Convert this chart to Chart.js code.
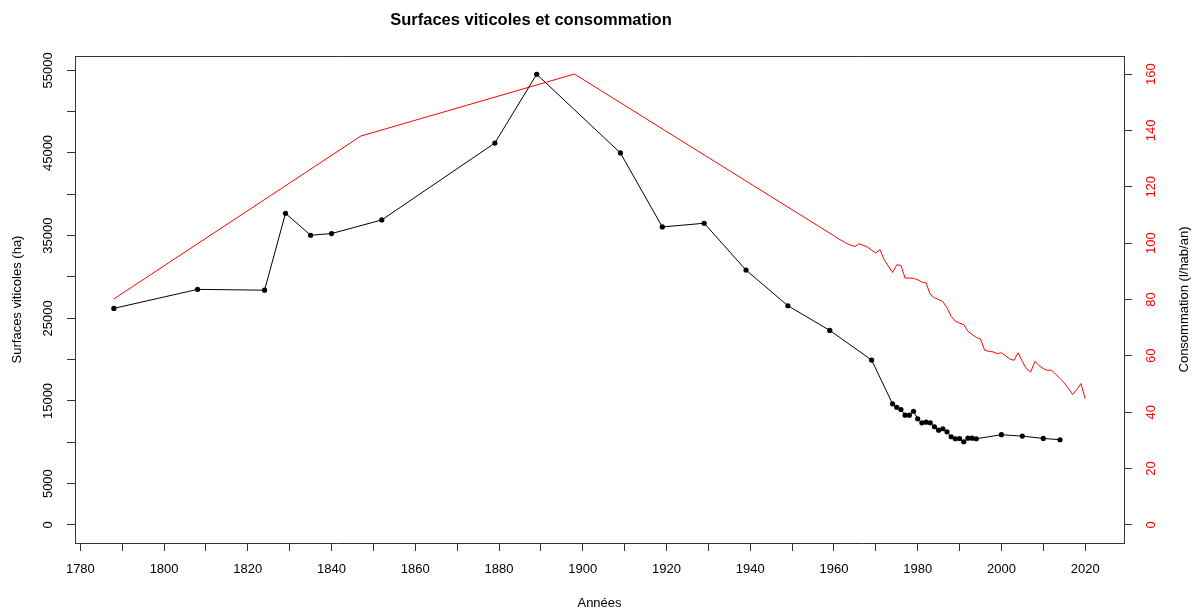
<!DOCTYPE html>
<html>
<head>
<meta charset="utf-8">
<script src="https://cdn.jsdelivr.net/npm/chart.js@4.4.1/dist/chart.umd.min.js"></script>
<style>
html,body{margin:0;padding:0;background:#fff;}
#wrap{width:1193px;height:610px;position:relative;}
canvas{display:block;}
</style>
</head>
<body>
<div id="wrap"><canvas id="c" width="1193" height="610"></canvas></div>
<script>
// ---- Data ----
const surfYears = [1788,1808,1824,1829,1835,1840,1852,1879,1889,1909,1919,1929,1939,1949,1959,1969,
  1974,1975,1976,1977,1978,1979,1980,1981,1982,1983,1984,1985,1986,1987,1988,1989,1990,1991,1992,1993,1994,
  2000,2005,2010,2014];
const surfValues = [26200,28500,28400,37700,35050,35250,36900,46200,54520,45000,36050,36500,30830,26520,23540,19950,
  14650,14240,13970,13280,13280,13760,12840,12360,12430,12360,11880,11470,11640,11270,10670,10430,10460,10070,10500,10500,10430,
  10920,10750,10470,10310];

const consYears = [1788,1847,1898,1960,1961,1962,1963,1964,1965,1966,1967,1968,1969,1970,1971,1972,1973,1974,1975,1976,1977,1978,1979,
  1980,1981,1982,1983,1984,1985,1986,1987,1988,1989,1990,1991,1992,1993,1994,1995,1996,1997,1998,1999,
  2000,2001,2002,2003,2004,2005,2006,2007,2008,2009,2010,2011,2012,2013,2014,2015,2016,2017,2018,2019,2020];
const consValues = [80.2,138.0,160.0,102.6,101.6,100.8,99.9,99.3,98.8,99.8,99.2,98.6,97.5,96.5,97.7,94.1,91.8,89.6,92.3,92.1,87.6,87.6,87.5,
  87.0,86.2,85.9,81.8,80.6,80.0,79.3,77.0,74.0,72.3,71.6,71.1,68.7,67.6,66.5,66.0,62.0,61.6,61.4,60.8,
  61.1,60.0,58.9,58.4,61.1,58.0,55.4,54.3,58.1,56.5,55.5,54.9,54.9,53.4,52.0,50.4,48.5,46.3,48.0,50.2,44.8];

const xTicks = [1780,1790,1800,1810,1820,1830,1840,1850,1860,1870,1880,1890,1900,1910,1920,1930,1940,1950,1960,1970,1980,1990,2000,2010,2020];
const xTickLabels = ['1780','','1800','','1820','','1840','','1860','','1880','','1900','','1920','','1940','','1960','','1980','','2000','','2020'];
const leftTicks = [0,5000,10000,15000,20000,25000,30000,35000,40000,45000,50000,55000];
const leftTickLabels = ['0','5000','','15000','','25000','','35000','','45000','','55000'];
const rightTicks = [0,20,40,60,80,100,120,140,160];
const rightTickLabels = ['0','20','40','60','80','100','120','140','160'];

const titleText = 'Surfaces viticoles et consommation';
const xTitle = 'Années';
const yTitle = 'Surfaces viticoles (ha)';
const y2Title = 'Consommation (l/hab/an)';

// ---- Chart ----
const FONT = "'Liberation Sans', Arial, Helvetica, sans-serif";
Chart.defaults.font.family = FONT;

function rotText(ctx, t, x, y, color, font) {
  ctx.save();
  ctx.translate(x, y);
  ctx.rotate(-Math.PI / 2);
  ctx.fillStyle = color;
  ctx.font = font;
  ctx.textAlign = 'center';
  ctx.textBaseline = 'middle';
  ctx.fillText(t, 0, 0);
  ctx.restore();
}

const decor = {
  id: 'decor',
  afterDraw(chart) {
    const ctx = chart.ctx;
    const a = chart.chartArea;
    // box top line
    ctx.save();
    ctx.strokeStyle = '#333';
    ctx.lineWidth = 1;
    ctx.beginPath();
    ctx.moveTo(Math.round(a.left) + 0.5, Math.round(a.top) + 0.5);
    ctx.lineTo(Math.round(a.right) + 0.5, Math.round(a.top) + 0.5);
    ctx.stroke();
    ctx.restore();
    // left labels
    const ys = chart.scales.y, y2s = chart.scales.y2;
    leftTicks.forEach((v, i) => {
      if (leftTickLabels[i]) rotText(ctx, leftTickLabels[i], 48, ys.getPixelForValue(v), '#000', '13px ' + FONT);
    });
    rightTicks.forEach((v, i) => {
      rotText(ctx, rightTickLabels[i], 1151, y2s.getPixelForValue(v), '#ff0000', '13px ' + FONT);
    });
    rotText(ctx, yTitle, 17, (a.top + a.bottom) / 2, '#000', '13px ' + FONT);
    rotText(ctx, y2Title, 1184, (a.top + a.bottom) / 2, '#000', '13px ' + FONT);
    // x title
    ctx.save();
    ctx.fillStyle = '#000';
    ctx.font = '13px ' + FONT;
    ctx.textAlign = 'center';
    ctx.textBaseline = 'middle';
    ctx.fillText(xTitle, (a.left + a.right) / 2, 603);
    ctx.font = 'bold 16.5px ' + FONT;
    ctx.fillText(titleText, 531, 20);
    ctx.restore();
  }
};

new Chart(document.getElementById('c'), {
  type: 'line',
  data: {
    datasets: [
      {
        label: 'Surfaces',
        data: surfYears.map((x, i) => ({ x: x, y: surfValues[i] })),
        yAxisID: 'y',
        borderColor: '#000',
        borderWidth: 1,
        pointRadius: 2.6,
        pointBackgroundColor: '#000',
        pointBorderWidth: 0,
        tension: 0
      },
      {
        label: 'Consommation',
        data: consYears.map((x, i) => ({ x: x, y: consValues[i] })),
        yAxisID: 'y2',
        borderColor: '#ff0000',
        borderWidth: 1,
        pointRadius: 0,
        tension: 0
      }
    ]
  },
  options: {
    responsive: false,
    animation: false,
    layout: { padding: { top: 56, left: 0, right: 0, bottom: 0 } },
    plugins: { legend: { display: false }, tooltip: { enabled: false }, title: { display: false } },
    scales: {
      x: {
        type: 'linear',
        min: 1778.72, max: 2029.28,
        afterBuildTicks: s => { s.ticks = xTicks.map(v => ({ value: v })); },
        afterFit: s => { s.height = 67; },
        grid: { drawOnChartArea: false, drawTicks: true, tickLength: 8, color: '#333' },
        border: { display: true, color: '#333' },
        ticks: { callback: (v, i) => xTickLabels[i], color: '#000', font: { size: 13 }, padding: 11, maxRotation: 0, minRotation: 0, autoSkip: false }
      },
      y: {
        type: 'linear', position: 'left',
        min: -2180, max: 56730,
        afterBuildTicks: s => { s.ticks = leftTicks.map(v => ({ value: v })); },
        afterFit: s => { s.width = 75; },
        grid: { drawOnChartArea: false, drawTicks: true, tickLength: 8, color: '#333' },
        border: { display: true, color: '#333' },
        ticks: { display: false }
      },
      y2: {
        type: 'linear', position: 'right',
        min: -6.4, max: 166.4,
        afterBuildTicks: s => { s.ticks = rightTicks.map(v => ({ value: v })); },
        afterFit: s => { s.width = 69; },
        grid: { drawOnChartArea: false, drawTicks: true, tickLength: 8, color: '#333' },
        border: { display: true, color: '#333' },
        ticks: { display: false }
      }
    }
  },
  plugins: [decor]
});
</script>
</body>
</html>
